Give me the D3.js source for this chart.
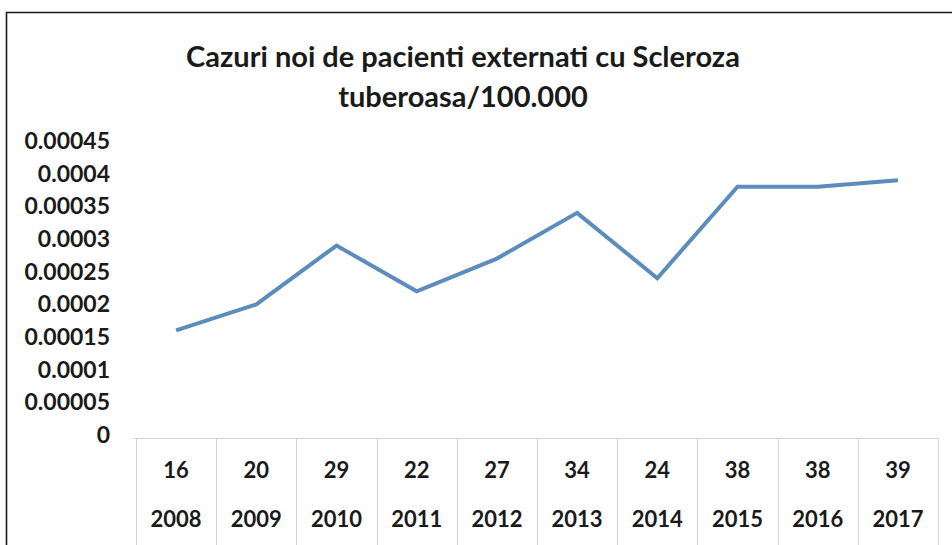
<!DOCTYPE html>
<html>
<head>
<meta charset="utf-8">
<script src="https://cdn.jsdelivr.net/npm/d3@7"></script>
<style>
  body { margin: 0; background: #fff; }
  svg { display: block; font-family: Lato, "Open Sans", sans-serif; }
</style>
</head>
<body>
<div id="chart"></div>
<script>
var years = ['2008', '2009', '2010', '2011', '2012', '2013', '2014', '2015', '2016', '2017'];
var counts = [16, 20, 29, 22, 27, 34, 24, 38, 38, 39];
var rates = [0.00016, 0.0002, 0.00029, 0.00022, 0.00027, 0.00034, 0.00024, 0.00038, 0.00038, 0.00039];
var yTicks = [0, 0.00005, 0.0001, 0.00015, 0.0002, 0.00025, 0.0003, 0.00035, 0.0004, 0.00045];
var titleLines = ['Cazuri noi de pacienti externati cu Scleroza', 'tuberoasa/100.000'];

var W = 952, H = 545;
var plotLeft = 136, plotRight = 938;
var plotTop = 141, zeroY = 435; // plot area
var tableTop = 438;

var svg = d3.select('#chart').append('svg')
    .attr('width', W)
    .attr('height', H);

// outer frame (only top and left visible in the crop)
svg.append('path')
    .attr('d', 'M6.5,' + H + 'V12.5H' + W)
    .attr('fill', 'none')
    .attr('stroke', '#1a1a1a')
    .attr('stroke-width', 1.6);

// title
var title = svg.append('text')
    .attr('text-anchor', 'middle')
    .style('font-size', '29px')
    .style('font-weight', 'bold')
    .attr('fill', '#1a1a1a');
title.selectAll('tspan')
    .data(titleLines)
    .enter().append('tspan')
    .attr('x', 463)
    .attr('y', function (d, i) { return 67 + i * 40; })
    .text(function (d) { return d; });

var x = d3.scaleBand()
    .domain(years)
    .range([plotLeft, plotRight])
    .padding(0);

var y = d3.scaleLinear()
    .domain([0, 0.00045])
    .range([zeroY, plotTop]);

// y axis labels
var yAxis = d3.axisLeft(y)
    .tickValues(yTicks)
    .tickSize(0)
    .tickPadding(0)
    .tickFormat(d3.format('.5~f'));

var gy = svg.append('g')
    .attr('transform', 'translate(110,0)')
    .call(yAxis);
gy.select('.domain').remove();
gy.selectAll('text')
    .style('font-size', '23px')
    .style('font-weight', 'bold')
    .style('font-family', 'Lato, sans-serif')
    .attr('fill', '#1a1a1a');

// data table under the axis
var grid = svg.append('g')
    .attr('stroke', '#d4d4d4')
    .attr('stroke-width', 1);
grid.append('line')
    .attr('x1', plotLeft - 3).attr('x2', plotRight)
    .attr('y1', tableTop + 0.5).attr('y2', tableTop + 0.5);
grid.selectAll('line.v')
    .data(years.concat(['end']))
    .enter().append('line')
    .attr('class', 'v')
    .attr('x1', function (d, i) { return Math.round(plotLeft + i * x.bandwidth()) + 0.5; })
    .attr('x2', function (d, i) { return Math.round(plotLeft + i * x.bandwidth()) + 0.5; })
    .attr('y1', tableTop)
    .attr('y2', H);

var cx = function (d) { return x(d) + x.bandwidth() / 2; };

svg.append('g').selectAll('text')
    .data(years)
    .enter().append('text')
    .attr('x', cx)
    .attr('y', 478)
    .attr('text-anchor', 'middle')
    .style('font-size', '22px')
    .style('font-weight', 'bold')
    .attr('fill', '#1a1a1a')
    .text(function (d, i) { return counts[i]; });

svg.append('g').selectAll('text')
    .data(years)
    .enter().append('text')
    .attr('x', cx)
    .attr('y', 527)
    .attr('text-anchor', 'middle')
    .style('font-size', '22px')
    .style('font-weight', 'bold')
    .attr('fill', '#1a1a1a')
    .text(function (d) { return d; });

// the line
var line = d3.line()
    .x(function (d, i) { return cx(years[i]); })
    .y(function (d) { return y(d); });

svg.append('path')
    .datum(rates)
    .attr('d', line)
    .attr('fill', 'none')
    .attr('stroke', '#5b8cbc')
    .attr('stroke-width', 4)
    .attr('stroke-linejoin', 'miter');
</script>
</body>
</html>
